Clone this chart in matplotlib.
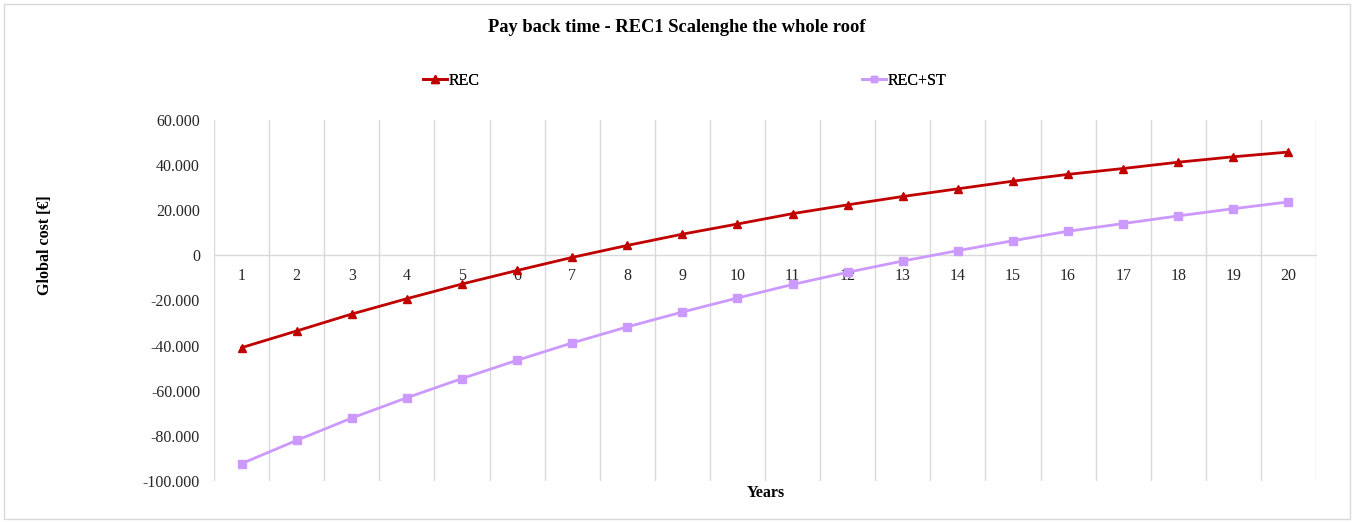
import matplotlib
matplotlib.use("Agg")
import matplotlib.pyplot as plt
from matplotlib.patches import Rectangle
from matplotlib.ticker import FuncFormatter, MultipleLocator

years = list(range(1, 21))
rec = [-40900, -33500, -26000, -19200, -12700, -6700, -900, 4400, 9400, 13900,
       18500, 22400, 26100, 29500, 32900, 35900, 38500, 41300, 43700, 45800]
rec_st = [-92300, -82000, -72100, -63100, -54600, -46500, -38800, -31700, -25100, -18900,
          -12900, -7500, -2500, 2100, 6500, 10700, 14100, 17500, 20700, 23700]
series_names = ["REC", "REC+ST"]
title = "Pay back time - REC1 Scalenghe the whole roof"

plt.rcParams["font.family"] = ["Liberation Serif", "DejaVu Serif"]

W, H = 1355, 522
fig = plt.figure(figsize=(W / 100, H / 100), dpi=100)
fig.patches.append(Rectangle((4 / W, 3 / H), (W - 9) / W, (H - 7) / H,
                             transform=fig.transFigure, fill=False,
                             edgecolor="#d9d9d9", linewidth=1.0))

left, right, top, bottom = 214, 1316, 120, 481
ax = fig.add_axes([left / W, 1 - bottom / H, (right - left) / W, (bottom - top) / H])

red = "#c00000"
purple = "#cc99ff"
l1, = ax.plot(years, rec, color=red, lw=2.0, marker="^", ms=6, zorder=3)
l2, = ax.plot(years, rec_st, color=purple, lw=2.0, marker="s", ms=5.5, zorder=3)

ax.set_xlim(0.5, 20.5)
ax.set_ylim(-100000, 60000)
ax.yaxis.set_major_locator(MultipleLocator(20000))
ax.yaxis.set_major_formatter(FuncFormatter(lambda v, p: f"{int(v):,}".replace(",", ".")))
ax.set_xticks(years)
ax.set_xticks([x + 0.5 for x in range(0, 21)], minor=True)
ax.grid(True, which="minor", axis="x", color="#d9d9d9", lw=1.0)
ax.tick_params(axis="x", which="both", length=0, pad=9, labelsize=11.5, colors="#262626")
ax.tick_params(axis="y", length=0, pad=10, labelsize=11.5, colors="#262626")

for s in ["top", "right", "left"]:
    ax.spines[s].set_visible(False)
ax.spines["bottom"].set_position(("data", 0))
ax.spines["bottom"].set_color("#d9d9d9")
ax.spines["bottom"].set_linewidth(1.0)

fig.text(677 / W, 1 - 27 / H, title, ha="center", va="center",
         fontsize=13.3, fontweight="bold", color="#000000")
fig.text(45 / W, 1 - 245 / H, "Global cost [€]", rotation=90, ha="center", va="center",
         fontsize=11.5, fontweight="bold")
fig.text(766 / W, 1 - 493 / H, "Years", ha="center", va="center",
         fontsize=11.5, fontweight="bold")

for handle, name, xpos in [(l1, series_names[0], 423), (l2, series_names[1], 862)]:
    lg = fig.legend([handle], [name], loc="center left",
                    bbox_to_anchor=(xpos / W, 1 - 81 / H), frameon=False,
                    fontsize=11.5, handlelength=1.5, handletextpad=0.1,
                    markerscale=0.85, borderpad=0, borderaxespad=0)
    fig.add_artist(lg)

fig.savefig("out.png", dpi=100)
